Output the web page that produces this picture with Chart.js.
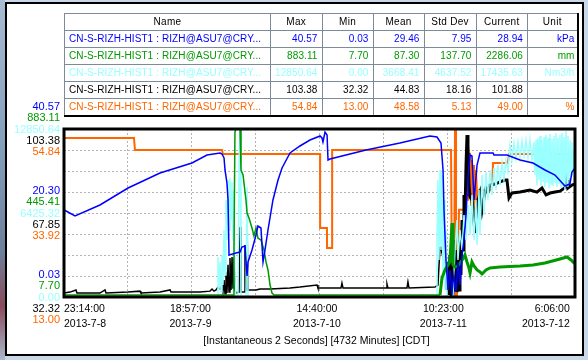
<!DOCTYPE html>
<html>
<head>
<meta charset="utf-8">
<script src="https://cdn.jsdelivr.net/npm/chart.js@4.4.1/dist/chart.umd.min.js"></script>
<style>
  html, body { margin: 0; padding: 0; width: 588px; height: 360px; overflow: hidden; background: #c9d7e8; }
  #strip { position: absolute; left: 0; top: 0; width: 5px; height: 360px;
    background: linear-gradient(to bottom, #a8bcd2 0%, #7f9ab8 45%, #6d7f99 70%, #8a4a5c 85%, #aab8cc 100%); }
  #frame { position: absolute; left: 5px; top: 2px; width: 579px; height: 354px; box-sizing: border-box;
    background: #fff; border: 2px solid #000; }
  #chart { position: absolute; left: 0; top: 0; }
  #stats { position: absolute; left: 64px; top: 13px; z-index: 2; border-collapse: collapse;
    font: 10px "Liberation Sans", Arial, sans-serif; table-layout: fixed;
    border-top: 1px solid #000; border-left: 1px solid #000; border-right: 2px solid #000; border-bottom: 2px solid #000; }
  #stats th, #stats td { height: 16px; line-height: 16px; padding: 0 4px; border: 1px solid #7d8a9c;
    white-space: nowrap; overflow: hidden; }
  #stats th { font-weight: normal; text-align: center; color: #000; letter-spacing: 0.3px; }
  #stats td { text-align: right; letter-spacing: 0.1px; }
  #stats td.name { text-align: left; }
  #stats td.unit { padding-right: 2px; }
</style>
</head>
<body>
<div id="strip"></div>
<div id="frame"></div>
<canvas id="chart" width="588" height="360"></canvas>
<table id="stats">
  <colgroup>
    <col style="width:206px"><col style="width:51px"><col style="width:51px"><col style="width:51px">
    <col style="width:52px"><col style="width:50px"><col style="width:50px">
  </colgroup>
  <thead><tr><th>Name</th><th>Max</th><th>Min</th><th>Mean</th><th>Std Dev</th><th>Current</th><th>Unit</th></tr></thead>
  <tbody id="statsBody"></tbody>
</table>
<script>
// Seri dan statistik
const seriesNames = [
  'CN-S-RIZH-HIST1 : RIZH@ASU7@CRY...',
  'CN-S-RIZH-HIST1 : RIZH@ASU7@CRY...',
  'CN-S-RIZH-HIST1 : RIZH@ASU7@CRY...',
  'CN-S-RIZH-HIST1 : RIZH@ASU7@CRY...',
  'CN-S-RIZH-HIST1 : RIZH@ASU7@CRY...'
];
const seriesColors = ['#0000ff', '#009900', '#99ffff', '#000000', '#ff6600'];
const statMax = [40.57, 883.11, 12850.64, 103.38, 54.84];
const statMin = [0.03, 7.70, 0.00, 32.32, 13.00];
const statMean = [29.46, 87.30, 3668.41, 44.83, 48.58];
const statStd = [7.95, 137.70, 4637.52, 18.16, 5.13];
const statCurrent = [28.94, 2286.06, 17435.63, 101.88, 49.00];
const units = ['kPa', 'mm', 'Nm3/h', '', '%'];
const axisMid = [20.30, 445.41, 6425.32, 67.85, 33.92];

// Sumbu waktu (menit sejak 2013-7-8 23:14:00)
const totalMinutes = 4732;
const timeLabels = ['23:14:00', '18:57:00', '14:40:00', '10:23:00', '6:06:00'];
const dateLabels = ['2013-7-8', '2013-7-9', '2013-7-10', '2013-7-11', '2013-7-12'];
const caption = '[Instantaneous 2 Seconds] [4732 Minutes] [CDT]';

// Seri 1 - tekanan (kPa)
const blueTime = [0,19,102,333,593,889,1185,1324,1445,1463,
  1482,1491,1509,1519,1528,1593,1630,1648,1676,1695,
  1704,1741,1778,1796,1824,1843,1861,1889,1935,1982,
  2019,2093,2185,2278,2371,2389,2398,2417,2436,2445,
  2463,2797,3111,3389,3454,3491,3510,3519,3537,3556,
  3574,3593,3611,3630,3648,3667,3686,3704,3723,3732,
  3741,3760,3778,3797,3825,3852,3973,3982,4102,4223,
  4343,4454,4547,4639,4685,4704,4732];
const blueKpa = [21.02,20.78,19.58,22.23,26.33,29.95,32.36,34.29,34.78,34.54,
  33.57,30.68,27.54,23.44,10.16,10.65,10.89,12.1,12.34,5.10,
  8.48,11.37,15.0,17.16,16.68,8.48,11.37,16.2,23.44,28.26,
  31.16,34.78,36.47,37.91,38.88,38.4,37.43,39.84,39.12,33.09,
  33.33,35.5,37.19,38.88,38.64,37.19,30.68,21.02,8.96,1.72,
  6.55,1.24,5.34,1.24,8.48,2.93,10.16,13.78,19.82,24.64,
  28.99,34.3,34.05,23.44,31.88,34.78,34.78,34.3,34.3,33.09,
  32.36,30.68,29.47,26.81,27.3,30.19,31.16];

// Seri 2 - level (mm)
const greenTime = [0,1565,1574,1583,1593,1630,1639,1658,1685,1695,
  1713,1741,1759,1778,1796,1824,1852,1871,1889,1908,
  1926,1945,3482,3500,3528,3556,3574,3593,3602,3621,
  3648,3676,3704,3713,3732,3750,3760,3778,3797,3825,
  3852,3871,3908,3945,4037,4223,4343,4454,4593,4658,
  4695,4732];
const greenMm = [18.1,18.1,252.6,867.5,883.1,883.1,669.5,643.4,513.2,445.4,
  419.4,367.3,325.6,367.3,315.1,304.7,252.6,190.1,148.4,70.2,
  28.5,18.1,18.1,106.7,148.4,174.5,190.1,393.3,174.5,164.0,
  169.2,190.1,216.1,226.6,190.1,158.8,132.8,190.1,169.2,148.4,
  138.0,127.6,148.4,158.8,164.0,169.2,174.5,184.9,205.7,216.1,
  200.5,179.7];

// Seri 3 - aliran (Nm3/h)
const cyanTime = [0,1417,1426,1435,1445,1454,1463,1472,1482,1491,
  1500,1509,1519,1528,1537,1547,1556,1565,1574,1583,
  1593,1611,1621,1630,1639,1685,1695,1704,3445,3454,
  3463,3472,3482,3491,3500,3510,3519,3528,3537,3547,
  3602,3621,3639,3648,3667,3686,3704,3723,3741,3760,
  3778,3797,3815,3825,3843,3852,3871,3889,3908,3926,
  3945,3963,3982,4000,4019,4037,4056,4074,4093,4111,
  4130,4148,4167,4185,4204,4223,4241,4260,4278,4297,
  4315,4334,4352,4361,4371,4380,4389,4399,4408,4417,
  4426,4436,4445,4454,4464,4473,4482,4491,4501,4510,
  4519,4528,4538,4547,4556,4565,4575,4584,4593,4602,
  4612,4621,4630,4639,4649,4658,4667,4676,4686,4695,
  4704,4713,4723,4732];
const cyanFlow = [0,0,3060,535,2677,382,3213,918,5125,1683,
  7420,4360,8949,5125,9102,5890,8796,4360,8184,1300,
  0,0,10479,12621,0,0,8414,0,0,4360,
  8949,2830,9714,3595,9332,1300,7420,535,5125,0,
  0,3595,5890,2830,5125,3595,6272,4360,7037,4742,
  7802,4360,7420,3977,8184,4742,9332,6272,9561,7420,
  9714,7802,9867,8184,10097,8567,10250,8949,10479,9561,
  11626,10479,11779,10632,11856,10709,11932,10785,12009,10632,
  12009,10479,11856,9332,12009,8567,12162,8949,12315,8490,
  12009,8796,12238,8414,12391,8720,12162,8337,12468,8643,
  12085,8490,12315,8796,12544,8414,12162,8720,12391,8337,
  12544,8567,12238,8184,12697,8490,12315,8949,12009,9332,
  11856,9714,11244,10479];

// Seri 4 - tanpa satuan
const blackTime = [0,56,111,120,333,380,389,593,704,713,
  889,982,991,1259,1352,1371,1389,1408,1426,1445,
  1463,1472,1482,1491,1500,1509,1519,1528,1537,1547,
  1556,1565,1574,1583,1593,1621,1630,1639,1667,1676,
  1685,1695,1704,1778,1815,1908,2093,2185,2343,2352,
  2565,2574,2584,2982,2991,3000,3176,3185,3195,3435,
  3463,3482,3500,3519,3537,3547,3556,3565,3574,3584,
  3593,3602,3611,3621,3630,3639,3648,3658,3667,3676,
  3686,3695,3704,3713,3723,3732,3741,3750,3760,3778,
  3788,3806,3825,3834,3852,3871,3889,3908,3926,3945,
  3991,4037,4084,4102,4121,4148,4223,4315,4380,4426,
  4464,4501,4547,4593,4649,4658,4667,4704,4732];
const blackValue = [34.0,34.4,35.3,34.0,34.0,35.3,34.0,34.4,34.8,34.0,
  34.4,35.3,34.4,34.4,34.8,35.7,34.8,35.3,36.5,35.7,
  37.4,34.4,39.5,33.6,42.9,34.0,45.9,34.4,48.8,35.3,
  49.2,36.1,48.8,35.3,34.0,34.4,61.9,34.4,34.4,54.3,
  34.8,62.8,35.3,35.3,35.7,35.7,36.1,36.5,37.4,36.1,
  36.1,38.2,36.1,36.1,37.8,36.1,36.1,38.7,36.1,36.5,
  37.4,53.5,52.2,48.8,45.9,35.3,47.1,33.2,50.1,32.3,
  56.4,32.7,45.9,35.3,52.2,34.4,48.8,35.3,56.4,41.6,
  64.9,52.2,75.5,67.0,88.2,100.8,96.6,79.7,74.6,73.3,
  69.1,59.4,67.0,73.3,76.3,69.1,74.2,78.4,76.7,79.7,
  80.1,81.0,81.8,81.8,74.2,76.3,76.7,77.6,76.7,78.4,
  75.5,76.3,76.7,77.1,78.9,82.7,78.4,79.7,80.1];

// Seri 5 - persen (%)
const orangeTime = [0,648,657,1463,1472,2371,2372,2435,2436,2482,
  2483,3584,3593,3611,3621,3630,3639,3658,3695,3704,
  3732,3741,3750,3760,3769,3778,3788,3797,3806,3815,
  3825,3843,3963,3973,4111,4121,4732];
const orangePct = [52.6,52.6,49.6,49.6,48.6,48.6,30.2,30.2,25.2,25.2,
  49.6,49.6,14.7,14.7,54.84,13.0,13.0,34.7,34.7,37.2,
  37.2,48.4,39.6,48.9,35.9,47.1,33.4,45.9,34.7,44.6,
  38.4,39.6,39.6,46.4,46.4,48.6,48.6];

// Tabel statistik
const fmt = v => v.toFixed(2);
const body = document.getElementById('statsBody');
seriesNames.forEach((name, i) => {
  const tr = document.createElement('tr');
  tr.style.color = seriesColors[i];
  const cells = [name, fmt(statMax[i]), fmt(statMin[i]), fmt(statMean[i]), fmt(statStd[i]), fmt(statCurrent[i]), units[i]];
  cells.forEach((c, k) => {
    const td = document.createElement('td');
    if (k === 0) td.className = 'name';
    if (k === 6) td.className = 'unit';
    td.textContent = c;
    tr.appendChild(td);
  });
  body.appendChild(tr);
});

const toPoints = (t, v) => t.map((x, i) => ({ x: x, y: v[i] }));
const seriesData = [
  toPoints(blueTime, blueKpa),
  toPoints(greenTime, greenMm),
  toPoints(cyanTime, cyanFlow),
  toPoints(blackTime, blackValue),
  toPoints(orangeTime, orangePct)
];
const lineWidths = [1.5, 1.5, 1.5, 1.5, 2];
// bagian yang bising digambar lebih tebal (hijau & hitam setelah menit 3480)
const noisyWidths = [1.5, 3, 1.5, 3, 2];
const noisyFrom = 3480;

const gridColor = '#b4b4b4';
const scales = {
  x: {
    type: 'linear', min: 0, max: totalMinutes,
    ticks: { display: false },
    grid: { color: gridColor, drawTicks: false },
    border: { display: false, dash: [2, 2] },
    afterBuildTicks: s => { s.ticks = Array.from({ length: 9 }, (_, k) => ({ value: k * totalMinutes / 8 })); }
  }
};
statMax.forEach((mx, i) => {
  const mn = statMin[i];
  scales['y' + i] = {
    type: 'linear', position: 'left', min: mn, max: mx,
    display: i === 0,
    ticks: { display: false },
    grid: { color: gridColor, drawTicks: false },
    border: { display: false, dash: [2, 2] },
    afterBuildTicks: s => { s.ticks = Array.from({ length: 9 }, (_, k) => ({ value: mn + k * (mx - mn) / 8 })); }
  };
});

// Plugin untuk bingkai, label sumbu bertumpuk dan keterangan
const overlay = {
  id: 'overlay',
  afterDraw(chart) {
    const { ctx, chartArea: a } = chart;
    ctx.save();
    ctx.strokeStyle = '#000';
    ctx.lineWidth = 3;
    ctx.strokeRect(a.left, a.top, a.right - a.left, a.bottom - a.top);

    ctx.font = '11px "Liberation Sans", Arial, sans-serif';
    ctx.textAlign = 'right';
    ctx.textBaseline = 'middle';
    statMax.forEach((mx, i) => {
      const s = chart.scales['y' + i];
      const off = (i - 2) * 11.3 + 0.5;
      ctx.fillStyle = seriesColors[i];
      [mx, axisMid[i], statMin[i]].forEach(v => {
        ctx.fillText(fmt(v), a.left - 4, s.getPixelForValue(v) + off);
      });
    });

    const xs = chart.scales.x;
    ctx.fillStyle = '#000';
    ctx.font = '10.5px "Liberation Sans", Arial, sans-serif';
    timeLabels.forEach((lbl, k) => {
      const px = xs.getPixelForValue(k * totalMinutes / 4) - k * 1.3;
      ctx.textAlign = k === 0 ? 'left' : (k === timeLabels.length - 1 ? 'right' : 'center');
      ctx.fillText(lbl, px, a.bottom + 12.5);
      ctx.fillText(dateLabels[k], px, a.bottom + 27);
    });
    ctx.textAlign = 'center';
    ctx.fillText(caption, (a.left + a.right) / 2 - 3, a.bottom + 44);
    ctx.restore();
  }
};

const chart = new Chart(document.getElementById('chart').getContext('2d'), {
  type: 'line',
  data: {
    datasets: seriesData.map((d, i) => ({
      label: seriesNames[i] + ' ' + units[i],
      data: d,
      yAxisID: 'y' + i,
      borderColor: seriesColors[i],
      borderWidth: lineWidths[i],
      segment: {
        borderWidth: c => (c.p0.parsed.x >= noisyFrom ? noisyWidths[i] : lineWidths[i])
      },
      pointRadius: 0,
      fill: false,
      tension: 0
    }))
  },
  options: {
    responsive: false,
    animation: false,
    devicePixelRatio: 1,
    layout: { padding: { left: 64, right: 13, top: 129, bottom: 63 } },
    plugins: { legend: { display: false }, tooltip: { enabled: false } },
    scales: scales
  },
  plugins: [overlay]
});
</script>
</body>
</html>
